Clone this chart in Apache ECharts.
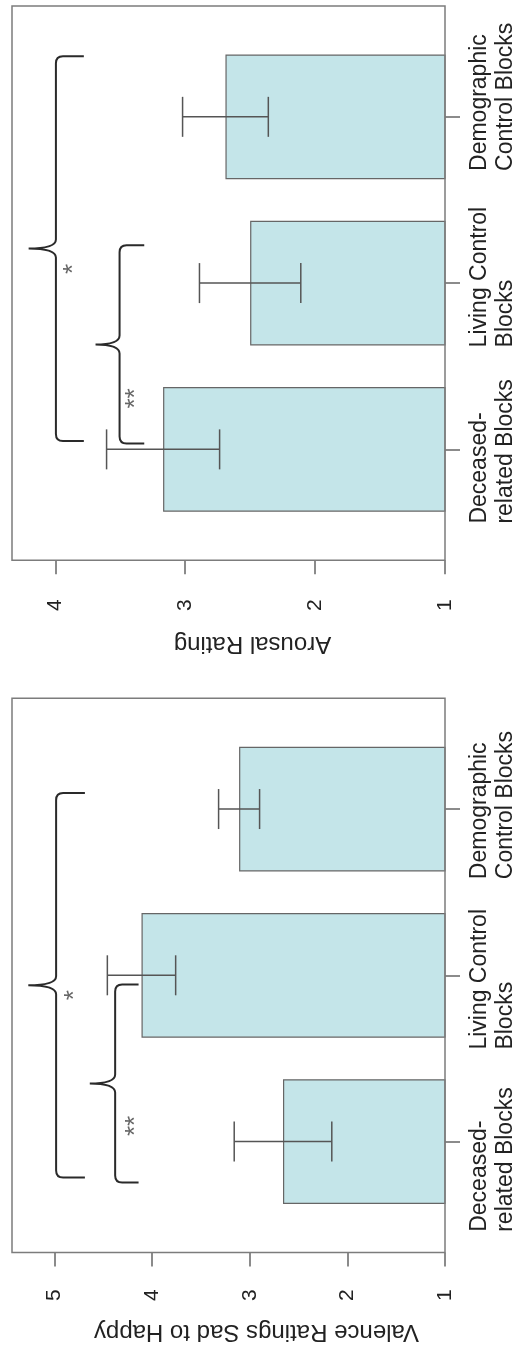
<!DOCTYPE html>
<html>
<head>
<meta charset="utf-8">
<script src="https://cdn.jsdelivr.net/npm/echarts@6/dist/echarts.min.js"></script>
<style>
  html, body { margin: 0; padding: 0; background: #ffffff; }
  #chart { width: 521px; height: 1351px; }
</style>
</head>
<body>
<div id="chart"></div>
<script>
// ---------------- data ----------------
const categories = ['Deceased-\nrelated Blocks', 'Living Control\nBlocks', 'Demographic\nControl Blocks'];

const arousalMeans  = [3.17, 2.50, 2.69];
const arousalErrors = [0.435, 0.39, 0.33];
const valenceMeans  = [2.66, 4.11, 3.11];
const valenceErrors = [0.50, 0.35, 0.21];

const arousalTicks = [1, 2, 3, 4];
const valenceTicks = [1, 2, 3, 4, 5];
const arousalRange = [1, 4.333];
const valenceRange = [1, 5.437];

// significance brackets: [fromCategoryPos, toCategoryPos, tipValue, spineValue, pointValue]
const arousalBrackets = [[0.035, 1.227, 3.315, 3.505, 3.69], [0.05, 2.365, 3.78, 3.995, 4.205]];
const valenceBrackets = [[-0.246, 0.944, 4.14, 4.38, 4.64], [-0.216, 2.096, 4.69, 4.985, 5.27]];
const arousalStars = ['**', '*'];
const arousalStarAt = [[3.41, 0.306], [3.885, 1.085]];
const valenceStars = ['**', '*'];
const valenceStarAt = [[4.21, 0.094], [4.83, 0.88]];

// ---------------- styling / layout ----------------
const FONT = "'Liberation Sans', Arial, Helvetica, sans-serif";
const GRID_LEFT = 12, GRID_WIDTH = 433, GRID_HEIGHT = 498.8, FRAME_PAD = 27.7;
const STAR_DX = 4;

const panels = [
  { name: 'Arousal Rating', means: arousalMeans, errors: arousalErrors, ticks: arousalTicks,
    range: arousalRange, brackets: arousalBrackets, stars: arousalStars, starAt: arousalStarAt,
    top: 33.7, labelShift: [2, -6, -20], nameGap: 71, labelMargin: 39, nameShift: 24 },
  { name: 'Valence Ratings Sad to Happy', means: valenceMeans, errors: valenceErrors, ticks: valenceTicks,
    range: valenceRange, brackets: valenceBrackets, stars: valenceStars, starAt: valenceStarAt,
    top: 725.9, labelShift: [18, 4, -4], nameGap: 67, labelMargin: 37, nameShift: 28 }
];

function shiftPad(d) { return d >= 0 ? [0, 2 * d, 0, 0] : [0, 0, 0, -2 * d]; }

const grid = [], xAxis = [], yAxis = [], series = [], graphic = [];

panels.forEach((p, k) => {
  grid.push({ left: GRID_LEFT, width: GRID_WIDTH, top: p.top, height: GRID_HEIGHT,
              containLabel: false, outerBoundsMode: 'none' });

  graphic.push({ type: 'rect', silent: true, z: 100,
    shape: { x: GRID_LEFT, y: p.top - FRAME_PAD, width: GRID_WIDTH, height: GRID_HEIGHT + 2 * FRAME_PAD },
    style: { fill: 'none', stroke: '#7c7c7c', lineWidth: 1.5 } });

  xAxis.push({
    type: 'value', gridIndex: k, min: p.range[0], max: p.range[1], interval: 1,
    inverse: true, position: 'bottom', offset: FRAME_PAD,
    name: p.name, nameLocation: 'middle', nameRotate: 180, nameGap: p.nameGap,
    nameTextStyle: { fontFamily: FONT, fontSize: 24, color: '#222', padding: [0, 2 * p.nameShift, 0, 0] },
    axisLine: { show: false }, splitLine: { show: false },
    axisTick: { show: true, length: 14, customValues: p.ticks, lineStyle: { color: '#666', width: 1.5 } },
    axisLabel: { rotate: 90, margin: p.labelMargin, customValues: p.ticks,
                 fontFamily: FONT, fontSize: 21, color: '#222', formatter: v => String(v) }
  });

  yAxis.push({
    type: 'category', gridIndex: k, position: 'right',
    data: categories.map((c, i) => ({ value: c, textStyle: { padding: shiftPad(p.labelShift[i]) } })),
    axisLine: { show: false }, splitLine: { show: false },
    axisTick: { show: true, alignWithLabel: true, length: 15, lineStyle: { color: '#666', width: 1.5 } },
    axisLabel: {
      interval: 0, rotate: 90, margin: 22,
      formatter: v => v.split('\n').map(s => '{c|' + s + '}').join('\n'),
      rich: { c: { fontFamily: FONT, fontSize: 23, lineHeight: 26, color: '#222', align: 'left' } }
    }
  });

  series.push({
    type: 'bar', xAxisIndex: k, yAxisIndex: k, data: p.means, barWidth: '75%', silent: true, z: 2,
    itemStyle: { color: '#c4e5e9', borderColor: '#666', borderWidth: 1.2 }
  });

  series.push({
    type: 'custom', xAxisIndex: k, yAxisIndex: k, z: 3, silent: true,
    data: p.means.map((m, i) => [m - p.errors[i], m + p.errors[i], i]),
    encode: { x: [0, 1], y: 2 },
    renderItem: (params, api) => {
      const i = params.dataIndex;
      const a = api.coord([api.value(0), i]);
      const b = api.coord([api.value(1), i]);
      const h = 20;
      const st = { stroke: '#555', lineWidth: 1.5 };
      return { type: 'group', children: [
        { type: 'line', shape: { x1: a[0], y1: a[1], x2: b[0], y2: b[1] }, style: st },
        { type: 'line', shape: { x1: a[0], y1: a[1] - h, x2: a[0], y2: a[1] + h }, style: st },
        { type: 'line', shape: { x1: b[0], y1: b[1] - h, x2: b[0], y2: b[1] + h }, style: st }
      ] };
    }
  });

  series.push({
    type: 'custom', xAxisIndex: k, yAxisIndex: k, z: 4, silent: true,
    data: p.brackets.map(b => [b[3], 0]),
    encode: { x: 0, y: 1 },
    renderItem: (params, api) => {
      const b = p.brackets[params.dataIndex];
      const band = api.size([0, 1])[1];
      const base = api.coord([b[3], 0]);
      const yOf = t => base[1] - t * band;
      const xt = api.coord([b[2], 0])[0], xs = base[0], xp = api.coord([b[4], 0])[0];
      const y1 = yOf(b[0]), y2 = yOf(b[1]), ym = (y1 + y2) / 2;
      const r = 7, m = 9;
      const d = 'M' + xt + ' ' + y1 + ' L' + (xs + r) + ' ' + y1 +
        ' Q' + xs + ' ' + y1 + ' ' + xs + ' ' + (y1 - r) +
        ' L' + xs + ' ' + (ym + m) +
        ' Q' + xs + ' ' + ym + ' ' + xp + ' ' + ym +
        ' Q' + xs + ' ' + ym + ' ' + xs + ' ' + (ym - m) +
        ' L' + xs + ' ' + (y2 + r) +
        ' Q' + xs + ' ' + y2 + ' ' + (xs + r) + ' ' + y2 +
        ' L' + xt + ' ' + y2;
      return { type: 'path', shape: { pathData: d },
               style: { fill: 'none', stroke: '#2a2a2a', lineWidth: 2 } };
    }
  });

  series.push({
    type: 'custom', xAxisIndex: k, yAxisIndex: k, z: 5, silent: true,
    data: p.starAt.map(s => [s[0], 0]),
    encode: { x: 0, y: 1 },
    renderItem: (params, api) => {
      const s = p.starAt[params.dataIndex];
      const band = api.size([0, 1])[1];
      const c = api.coord([s[0], 0]);
      return { type: 'text', x: c[0] + STAR_DX, y: c[1] - s[1] * band, rotation: Math.PI / 2,
               style: { text: p.stars[params.dataIndex], fontFamily: FONT, fontSize: 26,
                        fill: '#666', align: 'center', verticalAlign: 'middle' } };
    }
  });
});

const chart = echarts.init(document.getElementById('chart'), null, { renderer: 'canvas' });
chart.setOption({
  animation: false,
  backgroundColor: '#ffffff',
  textStyle: { fontFamily: FONT },
  grid, xAxis, yAxis, series, graphic
});
</script>
</body>
</html>
